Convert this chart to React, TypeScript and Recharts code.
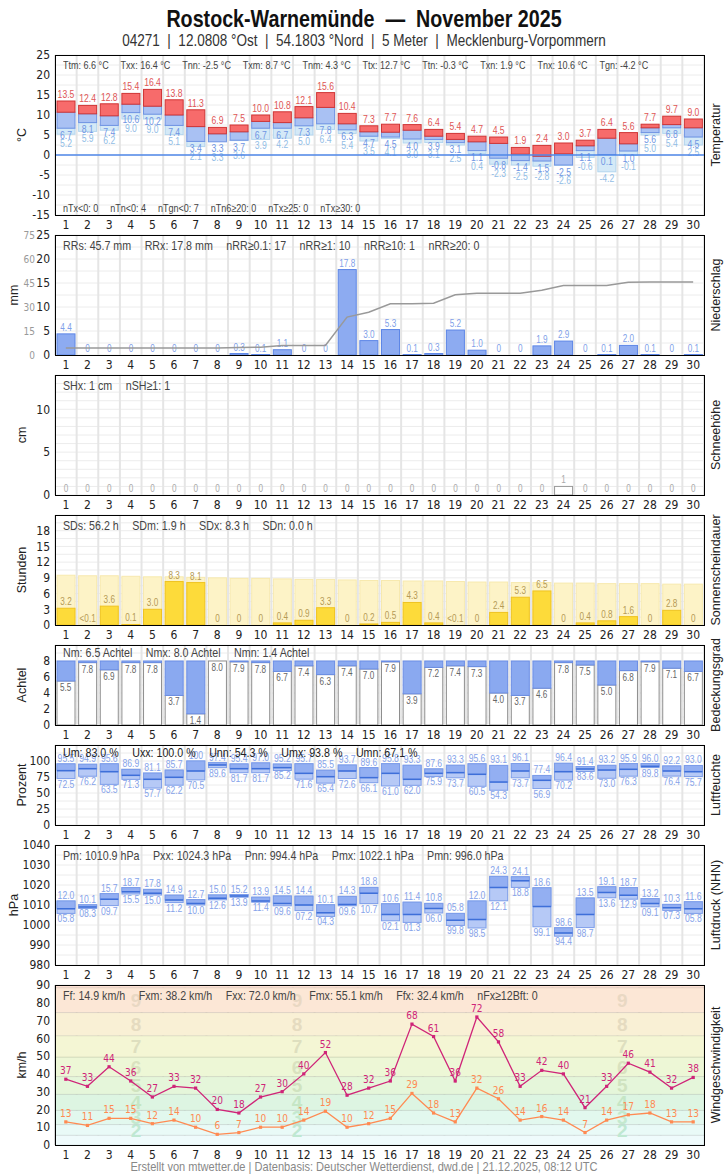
import React from 'react';
import { ComposedChart, Bar, Line, XAxis, YAxis, CartesianGrid, ReferenceLine, ReferenceArea, LabelList } from 'recharts';

const FONT = '"DejaVu Sans Condensed", "Liberation Sans", Arial, sans-serif';
const FONT_R = '"Liberation Sans", Arial, sans-serif';
const SQ = 0.82;

const days = ['1','2','3','4','5','6','7','8','9','10','11','12','13','14','15','16','17','18','19','20','21','22','23','24','25','26','27','28','29','30'];

const tMax = [13.5,12.4,12.8,15.4,16.4,13.8,11.3,6.9,7.5,10.0,10.8,12.1,15.6,10.4,7.3,7.7,7.6,6.4,5.4,4.7,4.5,1.9,2.4,3.0,3.7,6.4,5.6,7.7,9.7,9.0];
const tMean = [10.7,10.3,9.8,12.7,12.2,10.0,7.1,5.3,5.8,8.4,8.1,9.3,11.9,7.8,5.8,5.7,6.2,4.7,3.9,3.3,2.9,0.2,-0.3,0.3,2.3,4.2,2.8,6.8,7.6,6.8];
const tMin = [6.7,8.1,7.4,10.6,10.2,7.4,3.4,3.3,3.7,6.7,6.7,7.3,7.8,6.3,4.7,4.5,4.0,3.9,3.1,1.1,-0.8,-1.4,-1.5,-2.5,1.1,0.1,1.0,5.6,6.8,4.5];
const tGround = [5.2,5.9,6.2,9.0,9.0,5.1,2.1,3.3,3.6,3.9,4.2,5.0,6.4,5.4,3.5,4.1,3.0,3.1,2.5,0.4,-2.3,-2.5,-2.8,-2.6,-0.6,-4.2,-0.1,5.0,5.4,2.5];

const precip = [4.4,0,0,0,0,0,0,0,0.3,0.1,1.1,0,0,17.8,3.0,5.3,0.1,0.3,5.2,1.0,0,0,1.9,2.9,0,0.1,2.0,0.1,0,0.1];
const precipSum = [4.4,4.4,4.4,4.4,4.4,4.4,4.4,4.4,4.7,4.8,5.9,5.9,5.9,23.7,26.7,32.0,32.1,32.4,37.6,38.6,38.6,38.6,40.5,43.4,43.4,43.5,45.5,45.6,45.6,45.7];

const snow = [0,0,0,0,0,0,0,0,0,0,0,0,0,0,0,0,0,0,0,0,0,0,0,1,0,0,0,0,0,0];

const sunHours = [3.2,0,3.6,0.1,3.0,8.3,8.1,0,0,0,0.4,0.9,3.3,0,0.2,0.5,4.3,0.4,0,0,2.4,5.3,6.5,0,0.4,0.8,1.6,0,2.8,0];
const sunLabels = ['3.2','<0.1','3.6','0.1','3.0','8.3','8.1','0','0','0','0.4','0.9','3.3','0','0.2','0.5','4.3','0.4','<0.1','0','2.4','5.3','6.5','0','0.4','0.8','1.6','0','2.8','0'];
const sunPossible = [9.5,9.4,9.4,9.3,9.2,9.2,9.1,9.0,8.9,8.9,8.8,8.7,8.7,8.6,8.5,8.5,8.4,8.4,8.3,8.2,8.2,8.1,8.1,8.0,8.0,7.9,7.9,7.9,7.8,7.8];

const cloud = [5.5,7.8,6.9,7.8,7.8,3.7,1.4,8.0,7.9,7.8,6.7,7.4,6.3,7.4,7.0,7.9,3.9,7.2,7.4,7.3,4.0,3.7,4.6,7.8,7.5,5.0,6.8,7.9,7.1,6.7];

const humMax = [95.5,94.9,95.6,86.9,81.1,85.7,100,97.4,95.4,97.0,95.2,95.7,85.5,93.7,89.6,95.8,93.3,87.6,93.3,95.6,93.1,96.1,77.4,96.4,91.4,93.2,95.9,96.0,92.2,93.0];
const humMean = [84.9,88.0,83.3,77.6,71.4,74.5,84.4,93.8,88.0,88.0,89.6,80.7,75.5,84.4,74.0,80.7,71.4,80.7,81.8,79.2,67.1,84.4,69.8,83.3,87.5,85.9,87.0,91.7,84.4,83.3];
const humMin = [72.5,76.2,63.5,71.3,57.7,62.2,70.5,89.6,81.7,81.7,85.2,71.6,65.4,72.6,66.1,61.0,62.0,75.9,73.7,60.5,54.3,73.7,56.9,70.2,83.6,73.0,76.3,89.8,76.4,75.7];

const presMax = [1012.0,1010.1,1015.7,1018.7,1017.8,1014.9,1012.7,1015.0,1015.2,1013.9,1014.5,1014.4,1010.1,1014.3,1018.8,1010.6,1011.4,1010.8,1005.8,1012.0,1024.3,1024.1,1018.6,998.6,1013.5,1019.1,1018.7,1013.2,1010.3,1011.6];
const presMean = [1008.1,1009.0,1012.9,1016.6,1015.9,1012.5,1010.8,1013.4,1014.5,1012.0,1010.8,1010.0,1006.1,1010.3,1015.9,1005.3,1005.3,1008.3,1002.4,1002.7,1018.8,1022.1,1009.2,996.0,1005.3,1016.3,1014.9,1010.7,1008.6,1008.1];
const presMin = [1005.8,1008.3,1009.7,1015.5,1015.0,1011.2,1010.0,1012.6,1013.9,1011.4,1009.6,1007.2,1004.3,1009.6,1010.7,1002.1,1001.3,1006.0,999.8,998.5,1012.1,1018.8,999.1,994.4,998.7,1013.6,1012.9,1009.1,1007.3,1005.8];

const windGust = [37,33,44,36,27,33,32,20,18,27,30,40,52,28,32,36,68,61,36,72,58,33,42,40,21,33,46,41,32,38];
const windMean = [13,11,15,15,12,14,10,6,7,10,10,14,19,10,12,15,29,18,13,32,26,14,16,14,7,14,17,18,13,13];

const tempTicks = [-15,-10,-5,0,5,10,15,20,25];
const precipTicks = [0,5,10,15,20,25];
const precipSumTicks = [0,15,30,45,60,75];
const snowTicks = [0,5,10];
const sunTicks = [0,3,6,9,12,15,18];
const cloudTicks = [0,2,4,6,8];
const humTicks = [0,25,50,75,100];
const presTicks = [980,990,1000,1010,1020,1030,1040];
const windTicks = [0,10,20,30,40,50,60,70,80,90];

const bftBands = [
  { lo: 0, hi: 5.5, fill: '#effbfc', n: '' },
  { lo: 5.5, hi: 11.5, fill: '#e9faf7', n: '2' },
  { lo: 11.5, hi: 19.5, fill: '#e2f8ee', n: '3' },
  { lo: 19.5, hi: 28.5, fill: '#ddf5e2', n: '4' },
  { lo: 28.5, hi: 38.5, fill: '#e5f6da', n: '5' },
  { lo: 38.5, hi: 49.5, fill: '#edf7d6', n: '6' },
  { lo: 49.5, hi: 61.5, fill: '#f4f6d4', n: '7' },
  { lo: 61.5, hi: 74.5, fill: '#f9f0d5', n: '8' },
  { lo: 74.5, hi: 88.5, fill: '#fce7d6', n: '9' },
  { lo: 88.5, hi: 90, fill: '#fde0d2', n: '' },
];
const bftColors = { '2': '#bfe8d2', '3': '#c4e9cf', '4': '#c5e6c5', '5': '#d0e3c0', '6': '#d9e2bf', '7': '#dedfbf', '8': '#e5dbc0', '9': '#e9d8c3' };

const tempRows = days.map((d, i) => ({ day: d, tx: tMax[i], tm: tMean[i], tn: tMin[i], tg: tGround[i], red: [tMean[i], tMax[i]], dark: [tMin[i], tMean[i]], light: [tGround[i], tMin[i]] }));
const precipRows = days.map((d, i) => ({ day: d, p: precip[i], cum: precipSum[i] }));
const snowRows = days.map((d, i) => ({ day: d, s: snow[i] }));
const sunRows = days.map((d, i) => ({ day: d, s: sunHours[i], lbl: sunLabels[i], poss: sunPossible[i] }));
const cloudRows = days.map((d, i) => ({ day: d, n: cloud[i], nb: [cloud[i], 8] }));
const humRows = days.map((d, i) => ({ day: d, mx: humMax[i], mn: humMin[i], me: humMean[i], full: [humMin[i], humMax[i]], up: [humMean[i], humMax[i]] }));
const presRows = days.map((d, i) => ({ day: d, mx: presMax[i], mn: presMin[i], me: presMean[i], full: [presMin[i], presMax[i]], up: [presMean[i], presMax[i]] }));
const windRows = days.map((d, i) => ({ day: d, fx: windGust[i], fm: windMean[i] }));

const TOPM = 10;
const M = { top: TOPM, right: 24, bottom: 0, left: 0 };
const BW = 18;

const vGen = (p: any) => {
  const o = p.offset;
  const out: number[] = [];
  for (let i = 0; i <= 30; i++) out.push(o.left + (i * o.width) / 30);
  return out;
};
const hGen = (min: number, max: number, step: number) => (p: any) => {
  const o = p.offset;
  const out: number[] = [];
  for (let v = min; v <= max + 1e-9; v += step) out.push(o.top + ((max - v) / (max - min)) * o.height);
  return out;
};

const norm = (p: any) => {
  const y = Number(p.y) || 0;
  const h = Number(p.height) || 0;
  return { x: Number(p.x) || 0, w: Number(p.width) || 0, top: Math.min(y, y + h), bot: Math.max(y, y + h) };
};

function xAxes(n: number) {
  const arr: any[] = [];
  for (let i = 0; i < n; i++) {
    arr.push(
      <XAxis key={'x' + i} xAxisId={i} dataKey="day" scale="band" hide={i > 0} interval={0} tickLine={false} axisLine={false}
        tickSize={0} tickMargin={5} height={20} tick={{ fontSize: 12, fill: '#222', fontFamily: FONT }} />
    );
  }
  return arr;
}

function yAxis(domain: number[], ticks: number[]) {
  return (
    <YAxis yAxisId={0} type="number" width={55} domain={domain} ticks={ticks} allowDataOverflow interval={0}
      tickLine={false} axisLine={false} tickSize={0} tickMargin={5} tick={{ fontSize: 12, fill: '#222', fontFamily: FONT }} />
  );
}

function grids(min: number, max: number, step: number, vColor = '#e5e5e5', hColor = '#ececec') {
  return [
    <CartesianGrid key="gh" vertical={false} horizontalCoordinatesGenerator={hGen(min, max, step)} stroke={hColor} strokeWidth={1} />,
    <CartesianGrid key="gv" horizontal={false} verticalCoordinatesGenerator={vGen} stroke={vColor} strokeWidth={2} />,
  ];
}

const txt = (x: number, y: number, s: string, fill: string, anchor = 'middle', size = 10.5) => (
  <text transform={`translate(${x},${y}) scale(${SQ},1)`} x={0} y={0} textAnchor={anchor} fontSize={size} fontFamily={FONT_R} fill={fill}>{s}</text>
);

// Temperature shapes
const LightShape = (p: any) => {
  const { x, w, top, bot } = norm(p);
  const d = p.payload;
  const tnY = top + 10.5;
  const tgY = Math.max(bot + 10, tnY + 8.5);
  return (
    <g>
      <rect x={x} y={top} width={w} height={bot - top} fill="#d4e9f7" stroke="#b3d5ee" strokeWidth={1} />
      {txt(x + w / 2, tnY, d.tn.toFixed(1), '#6f95e3')}
      {txt(x + w / 2, tgY, d.tg.toFixed(1), '#92bde6')}
    </g>
  );
};
const DarkShape = (p: any) => {
  const { x, w, top, bot } = norm(p);
  return <rect x={x} y={top} width={w} height={bot - top} fill="#a9c1f3" stroke="#6f93e3" strokeWidth={1} />;
};
const RedShape = (p: any) => {
  const { x, w, top, bot } = norm(p);
  return (
    <g>
      <rect x={x} y={top} width={w} height={bot - top} fill="#f76b6b" stroke="#cf3535" strokeWidth={1} />
      {txt(x + w / 2, top - 3, p.payload.tx.toFixed(1), '#e05555')}
    </g>
  );
};

const fmtP = (v: number) => (v === 0 ? '0' : v.toFixed(1));
const PrecipShape = (p: any) => {
  const { x, w, top, bot } = norm(p);
  return (
    <g>
      {bot - top > 0 ? <rect x={x} y={top} width={w} height={bot - top} fill="#8dabf1" stroke="#5d86e6" strokeWidth={1} /> : null}
      {txt(x + w / 2, top - 3, fmtP(p.payload.p), '#7f9fe9', 'middle', 10)}
    </g>
  );
};
const SnowShape = (p: any) => {
  const { x, w, top, bot } = norm(p);
  return (
    <g>
      {bot - top > 0 ? <rect x={x} y={top} width={w} height={bot - top} fill="#ffffff" stroke="#999" strokeWidth={1} /> : null}
      {txt(x + w / 2, top - 3, String(p.payload.s), '#aaa', 'middle', 10)}
    </g>
  );
};
const SunBgShape = (p: any) => {
  const { x, w, top, bot } = norm(p);
  return <rect x={x} y={top} width={w} height={bot - top} fill="#fdf3c7" stroke="#f7e9ae" strokeWidth={1} />;
};
const SunShape = (p: any) => {
  const { x, w, top, bot } = norm(p);
  return (
    <g>
      {bot - top > 0 ? <rect x={x} y={top} width={w} height={bot - top} fill="#fddb3a" stroke="#efc321" strokeWidth={1} /> : null}
      {txt(x + w / 2, top - 3, p.payload.lbl, '#b59a55', 'middle', 10)}
    </g>
  );
};
const CloudWhiteShape = (p: any) => {
  const { x, w, top, bot } = norm(p);
  return (
    <g>
      <rect x={x} y={top} width={w} height={bot - top} fill="#ffffff" stroke="#8e8e8e" strokeWidth={1} />
      {txt(x + 3, top + 10, p.payload.n.toFixed(1), '#666', 'start', 10)}
    </g>
  );
};
const CloudBlueShape = (p: any) => {
  const { x, w, top, bot } = norm(p);
  return <rect x={x} y={top} width={w} height={bot - top} fill="#8aa9f0" stroke="#6a8de5" strokeWidth={1} />;
};

const boxFull = (fmt: (v: number) => string) => (p: any) => {
  const { x, w, top, bot } = norm(p);
  const d = p.payload;
  return (
    <g>
      <rect x={x} y={top} width={w} height={bot - top} fill="#b6c9f6" stroke="#7d9de9" strokeWidth={1} />
      {txt(x + w / 2, top - 2, fmt(d.mx), '#86a3ea')}
      {txt(x + w / 2, bot + 9, fmt(d.mn), '#86a3ea')}
    </g>
  );
};
const BoxUpper = (p: any) => {
  const { x, w, top, bot } = norm(p);
  return (
    <g>
      <rect x={x} y={top} width={w} height={bot - top} fill="#93aff2" stroke="#7d9de9" strokeWidth={1} />
      <line x1={x} x2={x + w} y1={bot} y2={bot} stroke="#3e6fd9" strokeWidth={1.5} />
    </g>
  );
};
const fmtH = (v: number) => (v >= 100 ? '100' : v.toFixed(1));
const fmtPr = (v: number) => {
  const r = (v % 100).toFixed(1);
  return r.length < 4 ? '0' + r : r;
};

const SquareDot = (color: string) => (p: any) => (
  <rect key={'d' + p.index} x={p.cx - 1.6} y={p.cy - 1.6} width={3.2} height={3.2} fill={color} />
);

const bftLabel = (n: string) => (p: any) => {
  if (!n) return null;
  const vb = p && p.viewBox ? p.viewBox : p;
  if (!vb || vb.width == null) return null;
  const cy = vb.y + vb.height / 2 + 7;
  const fr = [0.125, 0.373, 0.874];
  return (
    <g>
      {fr.map((f) => (
        <text key={f} x={vb.x + vb.width * f} y={cy} textAnchor="middle" fontSize={19} fontWeight="bold" fontFamily={FONT_R} fill={(bftColors as any)[n]}>{n}</text>
      ))}
    </g>
  );
};

function Frame({ top, height }: { top: number; height: number }) {
  return <div style={{ position: 'absolute', left: 55, top, width: 650, height: height + 1, border: '1px solid #000', boxSizing: 'border-box', pointerEvents: 'none' }} />;
}

function Stats({ top, items, gap = 16.5, color = '#444', size = 13 }: { top: number; items: string[]; gap?: number; color?: string; size?: number }) {
  return (
    <div style={{ position: 'absolute', left: 63, top, display: 'flex', gap, whiteSpace: 'pre', fontFamily: FONT_R, fontSize: size, color, lineHeight: `${Math.round(size + 2)}px`, transform: `scaleX(${SQ})`, transformOrigin: 'left top' }}>
      {items.map((s) => <span key={s}>{s}</span>)}
    </div>
  );
}

function CenterText({ top, text, size, bold, color }: { top: number; text: string; size: number; bold?: boolean; color: string }) {
  return (
    <div style={{ position: 'absolute', left: 0, top, width: 728, textAlign: 'center', whiteSpace: 'pre', fontFamily: FONT_R, fontWeight: bold ? 'bold' : 'normal', fontSize: size, color, lineHeight: `${Math.round(size * 1.2)}px`, transform: `scaleX(${SQ})`, transformOrigin: 'center top' }}>
      {text}
    </div>
  );
}

function LeftTitle({ text, cx, cy }: { text: string; cx: number; cy: number }) {
  return (
    <div style={{ position: 'absolute', left: cx, top: cy, transform: 'translate(-50%, -50%) rotate(-90deg)', whiteSpace: 'nowrap', fontFamily: FONT_R, fontSize: 12.5, color: '#222' }}>{text}</div>
  );
}
function RightTitle({ text, cy }: { text: string; cy: number }) {
  return (
    <div style={{ position: 'absolute', left: 716, top: cy, transform: 'translate(-50%, -50%) rotate(-90deg)', whiteSpace: 'nowrap', fontFamily: FONT_R, fontSize: 12.5, color: '#222' }}>{text}</div>
  );
}

const P = (top: number, child: any) => <div style={{ position: 'absolute', left: 0, top: top - TOPM }}>{child}</div>;
const H = (plotH: number) => plotH + 20 + TOPM;

export default function App() {
  return (
    <div style={{ position: 'absolute', left: 0, top: 0, width: 728, height: 1175, background: '#fff', overflow: 'hidden', fontFamily: FONT_R }}>
      <CenterText top={4} text={'Rostock-Warnemünde  —  November 2025'} size={24} bold color="#111" />
      <CenterText top={30} text={'04271  |  12.0808 °Ost  |  54.1803 °Nord  |  5 Meter  |  Mecklenburg-Vorpommern'} size={16.5} color="#333" />

      {/* Temperatur */}
      {P(55,
        <ComposedChart width={728} height={H(160)} data={tempRows} margin={M}>
          {grids(-15, 25, 2.5)}
          {xAxes(3)}
          {yAxis([-15, 25], tempTicks)}
          <Bar xAxisId={0} dataKey="light" barSize={BW} shape={LightShape} isAnimationActive={false} />
          <Bar xAxisId={1} dataKey="dark" barSize={BW} shape={DarkShape} isAnimationActive={false} />
          <Bar xAxisId={2} dataKey="red" barSize={BW} shape={RedShape} isAnimationActive={false} />
          <ReferenceLine xAxisId={0} y={0} stroke="#4f87e8" strokeWidth={1.5} />
        </ComposedChart>
      )}
      <Frame top={55} height={160} />
      <Stats top={59} size={11} gap={14.5} items={['Ttm: 6.6 °C', 'Txx: 16.4 °C', 'Tnn: -2.5 °C', 'Txm: 8.7 °C', 'Tnm: 4.3 °C', 'Ttx: 12.7 °C', 'Ttn: -0.3 °C', 'Txn: 1.9 °C', 'Tnx: 10.6 °C', 'Tgn: -4.2 °C']} />
      <Stats top={202} size={11} gap={14.5} items={['nTx<0: 0', 'nTn<0: 4', 'nTgn<0: 7', 'nTn6≥20: 0', 'nTx≥25: 0', 'nTx≥30: 0']} />
      <LeftTitle text="°C" cx={22} cy={135} />
      <RightTitle text="Temperatur" cy={135} />

      {/* Niederschlag */}
      {P(235,
        <ComposedChart width={728} height={H(120)} data={precipRows} margin={M}>
          {grids(0, 25, 2.5)}
          {xAxes(1)}
          <YAxis yAxisId={0} type="number" width={18} domain={[0, 25]} ticks={precipTicks} allowDataOverflow interval={0}
            tickLine={false} axisLine={false} tickSize={0} tickMargin={5} tick={{ fontSize: 12, fill: '#222', fontFamily: FONT }} />
          <YAxis yAxisId={1} type="number" width={37} domain={[0, 75]} ticks={precipSumTicks} allowDataOverflow interval={0}
            tickLine={false} axisLine={false} tickSize={0} tickMargin={2} tick={{ fontSize: 10, fill: '#999', fontFamily: FONT }} />
          <Bar xAxisId={0} yAxisId={0} dataKey="p" barSize={BW} shape={PrecipShape} isAnimationActive={false} />
          <Line xAxisId={0} yAxisId={1} dataKey="cum" type="linear" stroke="#999" strokeWidth={1.5} dot={false} isAnimationActive={false} />
        </ComposedChart>
      )}
      <Frame top={235} height={120} />
      <Stats top={238} items={['RRs: 45.7 mm', 'RRx: 17.8 mm', 'nRR≥0.1: 17', 'nRR≥1: 10', 'nRR≥10: 1', 'nRR≥20: 0']} />
      <LeftTitle text="mm" cx={14} cy={295} />
      <RightTitle text="Niederschlag" cy={295} />

      {/* Schneehöhe */}
      {P(375,
        <ComposedChart width={728} height={H(120)} data={snowRows} margin={M}>
          {grids(0, 14, 1)}
          {xAxes(1)}
          {yAxis([0, 14], snowTicks)}
          <Bar xAxisId={0} dataKey="s" barSize={BW} shape={SnowShape} isAnimationActive={false} />
        </ComposedChart>
      )}
      <Frame top={375} height={120} />
      <Stats top={378} items={['SHx: 1 cm', 'nSH≥1: 1']} />
      <LeftTitle text="cm" cx={22} cy={435} />
      <RightTitle text="Schneehöhe" cy={435} />

      {/* Sonnenscheindauer */}
      {P(515,
        <ComposedChart width={728} height={H(110)} data={sunRows} margin={M}>
          {grids(0, 21, 1.5)}
          {xAxes(2)}
          {yAxis([0, 21], sunTicks)}
          <Bar xAxisId={0} dataKey="poss" barSize={BW} shape={SunBgShape} isAnimationActive={false} />
          <Bar xAxisId={1} dataKey="s" barSize={BW} shape={SunShape} isAnimationActive={false} />
        </ComposedChart>
      )}
      <Frame top={515} height={110} />
      <Stats top={518} items={['SDs: 56.2 h', 'SDm: 1.9 h', 'SDx: 8.3 h', 'SDn: 0.0 h']} />
      <LeftTitle text="Stunden" cx={22} cy={570} />
      <RightTitle text="Sonnenscheindauer" cy={570} />

      {/* Bedeckungsgrad */}
      {P(645,
        <ComposedChart width={728} height={H(80)} data={cloudRows} margin={M}>
          {grids(0, 10, 1)}
          {xAxes(2)}
          {yAxis([0, 10], cloudTicks)}
          <Bar xAxisId={0} dataKey="n" barSize={BW} shape={CloudWhiteShape} isAnimationActive={false} />
          <Bar xAxisId={1} dataKey="nb" barSize={BW} shape={CloudBlueShape} isAnimationActive={false} />
        </ComposedChart>
      )}
      <Frame top={645} height={80} />
      <Stats top={645} items={['Nm: 6.5 Achtel', 'Nmx: 8.0 Achtel', 'Nmn: 1.4 Achtel']} />
      <LeftTitle text="Achtel" cx={22} cy={685} />
      <RightTitle text="Bedeckungsgrad" cy={685} />

      {/* Luftfeuchte */}
      {P(745,
        <ComposedChart width={728} height={H(80)} data={humRows} margin={M}>
          {grids(0, 125, 12.5)}
          {xAxes(2)}
          {yAxis([0, 125], humTicks)}
          <Bar xAxisId={0} dataKey="full" barSize={BW} shape={boxFull(fmtH)} isAnimationActive={false} />
          <Bar xAxisId={1} dataKey="up" barSize={BW} shape={BoxUpper} isAnimationActive={false} />
        </ComposedChart>
      )}
      <Frame top={745} height={80} />
      <Stats top={745} color="#222" items={['Um: 83.0 %', 'Uxx: 100.0 %', 'Unn: 54.3 %', 'Umx: 93.8 %', 'Umn: 67.1 %']} />
      <LeftTitle text="Prozent" cx={22} cy={785} />
      <RightTitle text="Luftfeuchte" cy={785} />

      {/* Luftdruck */}
      {P(845,
        <ComposedChart width={728} height={H(120)} data={presRows} margin={M}>
          {grids(980, 1040, 5)}
          {xAxes(2)}
          {yAxis([980, 1040], presTicks)}
          <Bar xAxisId={0} dataKey="full" barSize={BW} shape={boxFull(fmtPr)} isAnimationActive={false} />
          <Bar xAxisId={1} dataKey="up" barSize={BW} shape={BoxUpper} isAnimationActive={false} />
        </ComposedChart>
      )}
      <Frame top={845} height={120} />
      <Stats top={848} items={['Pm: 1010.9 hPa', 'Pxx: 1024.3 hPa', 'Pnn: 994.4 hPa', 'Pmx: 1022.1 hPa', 'Pmn: 996.0 hPa']} />
      <LeftTitle text="hPa" cx={14} cy={905} />
      <RightTitle text="Luftdruck (NHN)" cy={905} />

      {/* Wind */}
      {P(985,
        <ComposedChart width={728} height={H(160)} data={windRows} margin={M}>
          {xAxes(1)}
          {yAxis([0, 90], windTicks)}
          {bftBands.map((b) => (
            <ReferenceArea key={'b' + b.lo} xAxisId={0} yAxisId={0} y1={b.lo} y2={b.hi} fill={b.fill} fillOpacity={1}
              stroke="rgba(0,0,0,0.08)" strokeWidth={1} label={bftLabel(b.n)} />
          ))}
          <CartesianGrid horizontal={false} verticalCoordinatesGenerator={vGen} stroke="rgba(0,0,0,0.12)" strokeWidth={2} />
          <Line xAxisId={0} dataKey="fm" type="linear" stroke="#ff8a52" strokeWidth={1.3} dot={SquareDot('#ff8a52')} isAnimationActive={false}>
            <LabelList dataKey="fm" position="top" offset={5} fill="#ff8a52" fontSize={10} fontFamily={FONT} />
          </Line>
          <Line xAxisId={0} dataKey="fx" type="linear" stroke="#cf2478" strokeWidth={1.3} dot={SquareDot('#cf2478')} isAnimationActive={false}>
            <LabelList dataKey="fx" position="top" offset={5} fill="#cf2478" fontSize={10} fontFamily={FONT} />
          </Line>
        </ComposedChart>
      )}
      <Frame top={985} height={160} />
      <Stats top={988} items={['Ff: 14.9 km/h', 'Fxm: 38.2 km/h', 'Fxx: 72.0 km/h', 'Fmx: 55.1 km/h', 'Ffx: 32.4 km/h', 'nFx≥12Bft: 0']} />
      <LeftTitle text="km/h" cx={22} cy={1065} />
      <RightTitle text="Windgeschwindigkeit" cy={1065} />

      <CenterText top={1159} text={'Erstellt von mtwetter.de | Datenbasis: Deutscher Wetterdienst, dwd.de | 21.12.2025, 08:12 UTC'} size={13.5} color="#888" />
    </div>
  );
}
